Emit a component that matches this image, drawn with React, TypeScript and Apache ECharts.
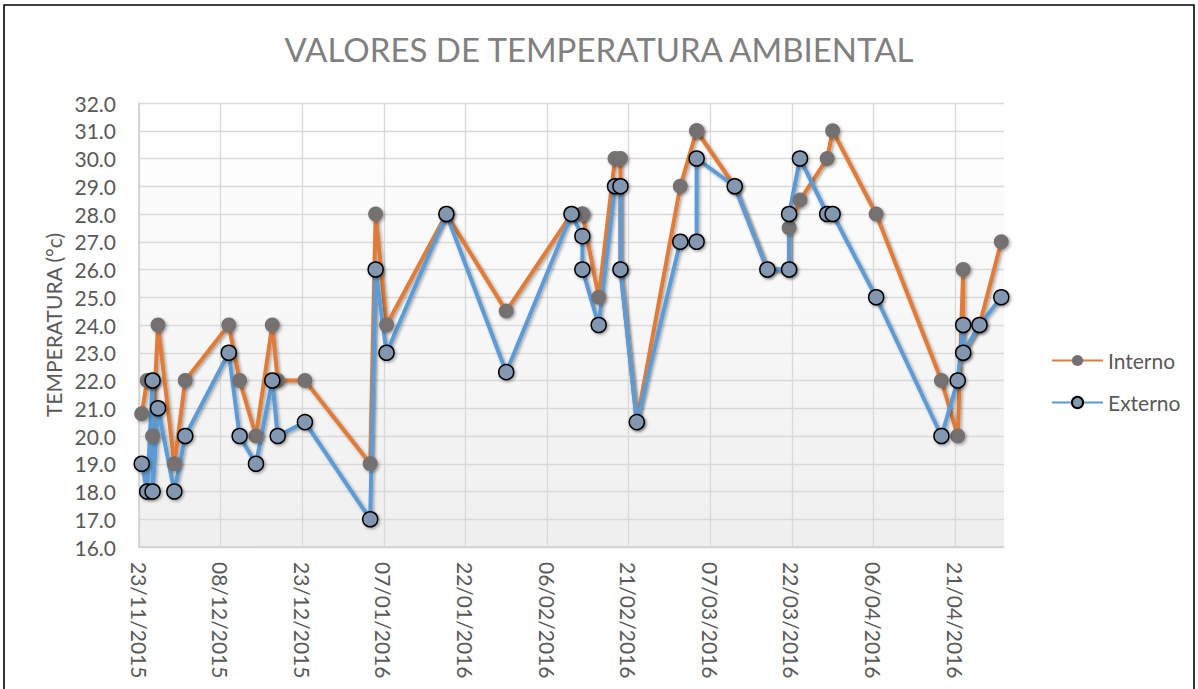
import React, { useEffect, useRef } from "react";
import * as echarts from "echarts";

const dates = [
  "23/11/2015", "24/11/2015", "25/11/2015", "25/11/2015", "26/11/2015", "29/11/2015",
  "01/12/2015", "09/12/2015", "11/12/2015", "14/12/2015", "17/12/2015", "18/12/2015",
  "23/12/2015", "04/01/2016", "05/01/2016", "07/01/2016", "18/01/2016", "29/01/2016",
  "10/02/2016", "12/02/2016", "12/02/2016", "15/02/2016", "18/02/2016", "19/02/2016",
  "19/02/2016", "22/02/2016", "01/03/2016", "04/03/2016", "04/03/2016", "11/03/2016",
  "17/03/2016", "21/03/2016", "21/03/2016", "23/03/2016", "28/03/2016", "29/03/2016",
  "06/04/2016", "18/04/2016", "21/04/2016", "22/04/2016", "22/04/2016", "25/04/2016",
  "29/04/2016",
];

const interno = [
  20.8, 22, 22, 20, 24, 19,
  22, 24, 22, 20, 24, 22,
  22, 19, 28, 24, 28, 24.5,
  28, 28, 28, 25, 30, 30,
  26, 20.5, 29, 31, 31, 29,
  26, 26, 27.5, 28.5, 30, 31,
  28, 22, 20, 26, 23, 24,
  27,
];

const externo = [
  19, 18, 22, 18, 21, 18,
  20, 23, 20, 19, 22, 20,
  20.5, 17, 26, 23, 28, 22.3,
  28, 27.2, 26, 24, 29, 29,
  26, 20.5, 27, 27, 30, 29,
  26, 26, 28, 30, 28, 28,
  25, 20, 22, 24, 23, 24,
  25,
];

const xTickLabels = [
  "23/11/2015", "08/12/2015", "23/12/2015", "07/01/2016", "22/01/2016", "06/02/2016",
  "21/02/2016", "07/03/2016", "22/03/2016", "06/04/2016", "21/04/2016",
];

const axisStart = "23/11/2015";
const axisEnd = "30/04/2016";
const tickStepDays = 15;

const DAY = 86400000;
function toUTC(s: string): number {
  const [d, m, y] = s.split("/").map(Number);
  return Date.UTC(y, m - 1, d);
}
const START = toUTC(axisStart);
function dayOf(s: string): number {
  return Math.round((toUTC(s) - START) / DAY);
}

const FONT = "Lato, 'Noto Sans', sans-serif";

export default function App() {
  const ref = useRef<HTMLDivElement>(null);
  useEffect(() => {
    if (!ref.current) return;
    const chart = echarts.init(ref.current, undefined, { renderer: "svg" });
    const shadow = {
      shadowColor: "rgba(0,0,0,0.35)",
      shadowBlur: 3,
      shadowOffsetX: 1.5,
      shadowOffsetY: 1.5,
    };
    const inData = dates.map((d, i) => [dayOf(d) + 0.5, interno[i]]);
    const exData = dates.map((d, i) => [dayOf(d) + 0.5, externo[i]]);
    chart.setOption({
      animation: false,
      backgroundColor: "#ffffff",
      title: {
        text: "VALORES DE TEMPERATURA AMBIENTAL",
        left: "center",
        top: 27,
        textStyle: {
          fontFamily: FONT,
          fontSize: 33,
          fontWeight: 400,
          color: "#808080",
        },
      },
      graphic: [
        {
          type: "rect",
          shape: { x: 4, y: 5, width: 1190, height: 710 },
          style: { fill: "none", stroke: "#000000", lineWidth: 1.6 },
          silent: true,
          z: 100,
        },
      ],
      legend: {
        orient: "vertical",
        left: 1046,
        top: 345,
        itemWidth: 51,
        itemHeight: 14,
        itemGap: 21,
        textStyle: { fontFamily: FONT, fontSize: 21, color: "#595959" },
        data: ["Interno", "Externo"],
      },
      grid: {
        left: 139,
        right: 194,
        top: 103,
        bottom: 142,
        show: true,
        borderWidth: 0,
        backgroundColor: {
          type: "linear",
          x: 0,
          y: 0,
          x2: 0,
          y2: 1,
          colorStops: [
            { offset: 0, color: "#ffffff" },
            { offset: 1, color: "#efefef" },
          ],
        },
      },
      xAxis: {
        type: "value",
        min: 0,
        max: dayOf(axisEnd),
        interval: tickStepDays,
        axisLine: { show: true, lineStyle: { color: "#d0d0d0", width: 1.5 } },
        axisTick: { show: false },
        splitLine: { show: true, showMaxLine: false, lineStyle: { color: "#d9d9d9", width: 1.3 } },
        axisLabel: {
          rotate: -90,
          margin: 15,
          fontFamily: FONT,
          fontSize: 21,
          color: "#595959",
          showMaxLabel: false,
          formatter: (v: number) => {
            const idx = Math.round(v / tickStepDays);
            return v % tickStepDays === 0 && xTickLabels[idx] ? xTickLabels[idx] : "";
          },
        },
      },
      yAxis: {
        type: "value",
        min: 16,
        max: 32,
        interval: 1,
        name: "TEMPERATURA (°c)",
        nameLocation: "middle",
        nameGap: 74,
        nameRotate: 90,
        nameTextStyle: { fontFamily: FONT, fontSize: 21, color: "#595959" },
        axisLine: { show: true, lineStyle: { color: "#d0d0d0", width: 1.5 } },
        axisTick: { show: false },
        splitLine: { show: true, lineStyle: { color: "#d9d9d9", width: 1.3 } },
        axisLabel: {
          margin: 23,
          fontFamily: FONT,
          fontSize: 21,
          color: "#595959",
          formatter: (v: number) => v.toFixed(1),
        },
      },
      series: [
        {
          name: "Interno",
          type: "line",
          data: inData,
          symbol: "circle",
          symbolSize: 15,
          lineStyle: { color: "#E07B39", width: 4, ...shadow },
          itemStyle: { color: "#767171", borderWidth: 0, ...shadow },
        },
        {
          name: "Externo",
          type: "line",
          data: exData,
          symbol: "circle",
          symbolSize: 15,
          lineStyle: { color: "#5B9BD5", width: 4, ...shadow },
          itemStyle: { color: "#8497B0", borderColor: "#000000", borderWidth: 1.5, ...shadow },
        },
      ],
    });
    return () => chart.dispose();
  }, []);
  return (
    <div
      ref={ref}
      style={{ position: "fixed", left: 0, top: 0, width: 1198, height: 689 }}
    />
  );
}
